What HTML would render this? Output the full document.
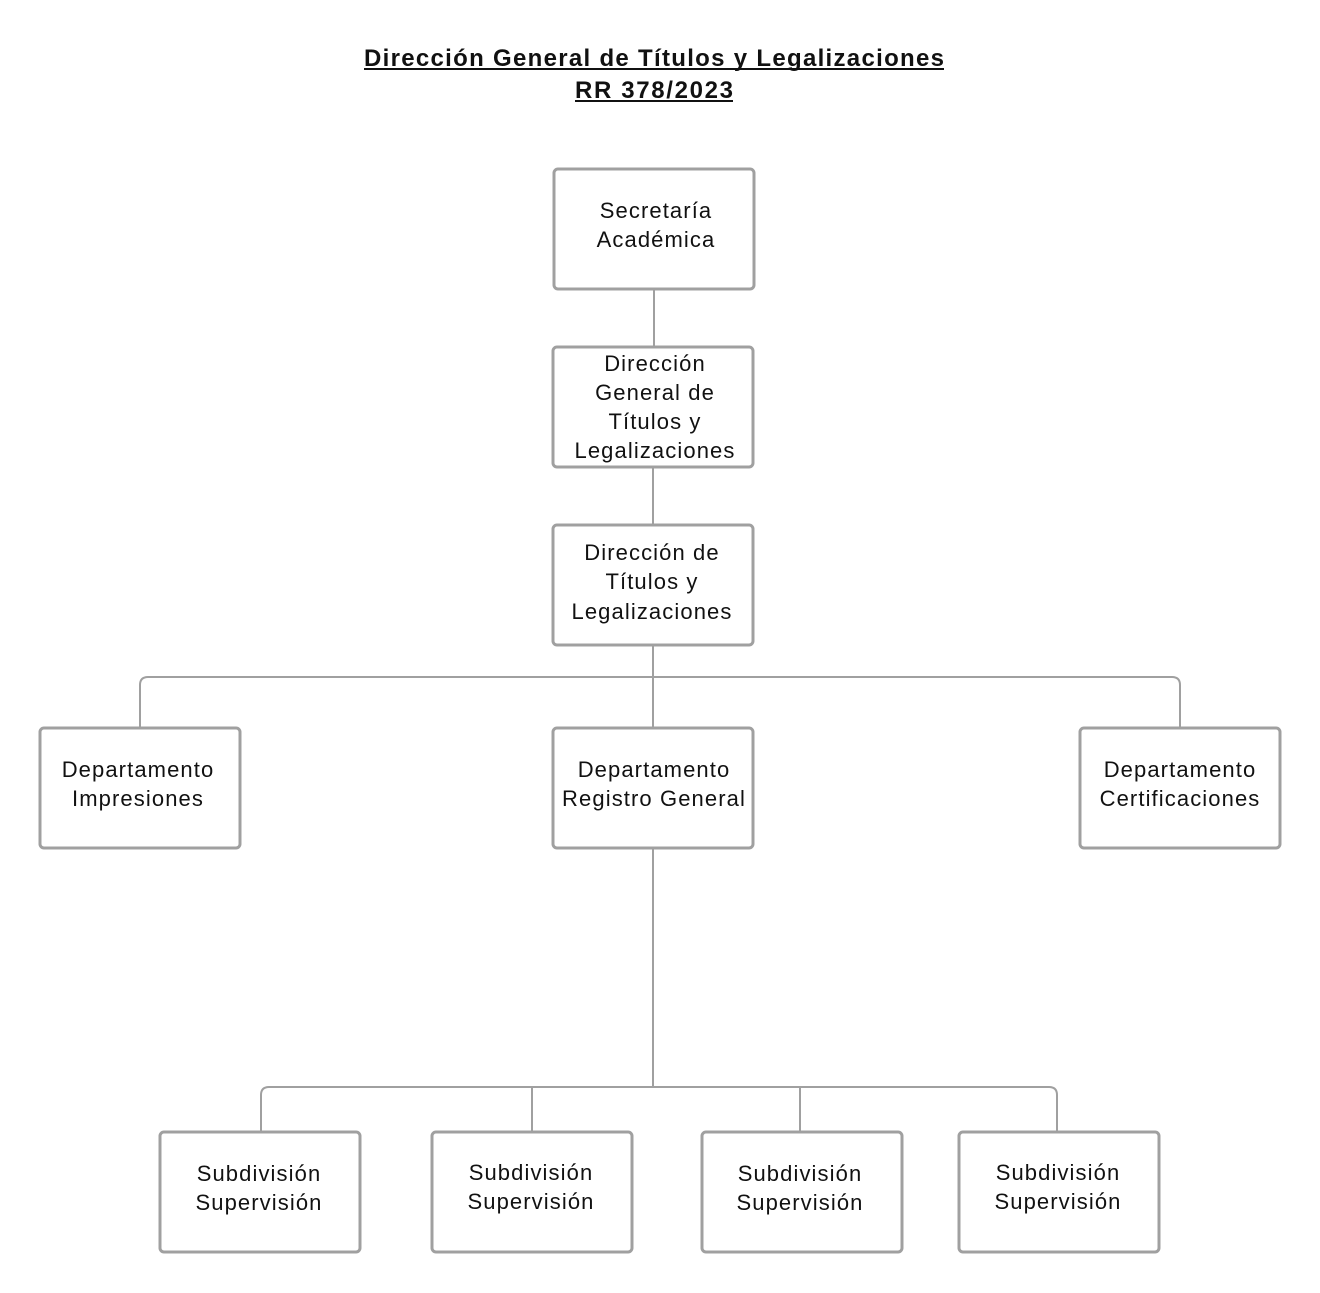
<!DOCTYPE html>
<html><head><meta charset="utf-8"><style>
html,body{margin:0;padding:0;background:#fff;}
svg{display:block;}
text{font-family:"Liberation Sans",sans-serif;fill:#111;}
</style></head><body>
<svg width="1320" height="1293" viewBox="0 0 1320 1293" xmlns="http://www.w3.org/2000/svg">
<text x="364" y="66" font-size="24" font-weight="bold" textLength="580" lengthAdjust="spacing">Dirección General de Títulos y Legalizaciones</text>
<line x1="364" y1="69" x2="944" y2="69" stroke="#111" stroke-width="2"/>
<text x="575" y="98" font-size="24" font-weight="bold" textLength="158" lengthAdjust="spacing">RR 378/2023</text>
<line x1="575" y1="101" x2="733" y2="101" stroke="#111" stroke-width="2"/>
<g fill="none" stroke="#a0a0a0" stroke-width="2">
<line x1="654" y1="289" x2="654" y2="347"/>
<line x1="653" y1="467" x2="653" y2="525"/>
<line x1="653" y1="645" x2="653" y2="728"/>
<path d="M140 728 V685 Q140 677 148 677 H1172 Q1180 677 1180 685 V728"/>
<line x1="653" y1="848" x2="653" y2="1087"/>
<path d="M261 1132 V1095 Q261 1087 269 1087 H1049 Q1057 1087 1057 1095 V1132"/>
<line x1="532" y1="1087" x2="532" y2="1132"/>
<line x1="800" y1="1087" x2="800" y2="1132"/>
</g>
<g fill="#fff" stroke="#a0a0a0" stroke-width="3">
<rect x="554" y="169" width="200" height="120" rx="4"/>
<rect x="553" y="347" width="200" height="120" rx="4"/>
<rect x="553" y="525" width="200" height="120" rx="4"/>
<rect x="40" y="728" width="200" height="120" rx="4"/>
<rect x="553" y="728" width="200" height="120" rx="4"/>
<rect x="1080" y="728" width="200" height="120" rx="4"/>
<rect x="160" y="1132" width="200" height="120" rx="4"/>
<rect x="432" y="1132" width="200" height="120" rx="4"/>
<rect x="702" y="1132" width="200" height="120" rx="4"/>
<rect x="959" y="1132" width="200" height="120" rx="4"/>
</g>
<g font-size="22" text-anchor="middle" letter-spacing="1.1">
<text x="656" y="218">Secretaría</text><text x="656" y="247">Académica</text>
<text x="655" y="371">Dirección</text><text x="655" y="400">General de</text><text x="655" y="429">Títulos y</text><text x="655" y="458">Legalizaciones</text>
<text x="652" y="560">Dirección de</text><text x="652" y="589">Títulos y</text><text x="652" y="619">Legalizaciones</text>
<text x="138" y="777">Departamento</text><text x="138" y="806">Impresiones</text>
<text x="654" y="777">Departamento</text><text x="654" y="806">Registro General</text>
<text x="1180" y="777">Departamento</text><text x="1180" y="806">Certificaciones</text>
<text x="259" y="1181">Subdivisión</text><text x="259" y="1210">Supervisión</text>
<text x="531" y="1180">Subdivisión</text><text x="531" y="1209">Supervisión</text>
<text x="800" y="1181">Subdivisión</text><text x="800" y="1210">Supervisión</text>
<text x="1058" y="1180">Subdivisión</text><text x="1058" y="1209">Supervisión</text>
</g>
</svg>
</body></html>
